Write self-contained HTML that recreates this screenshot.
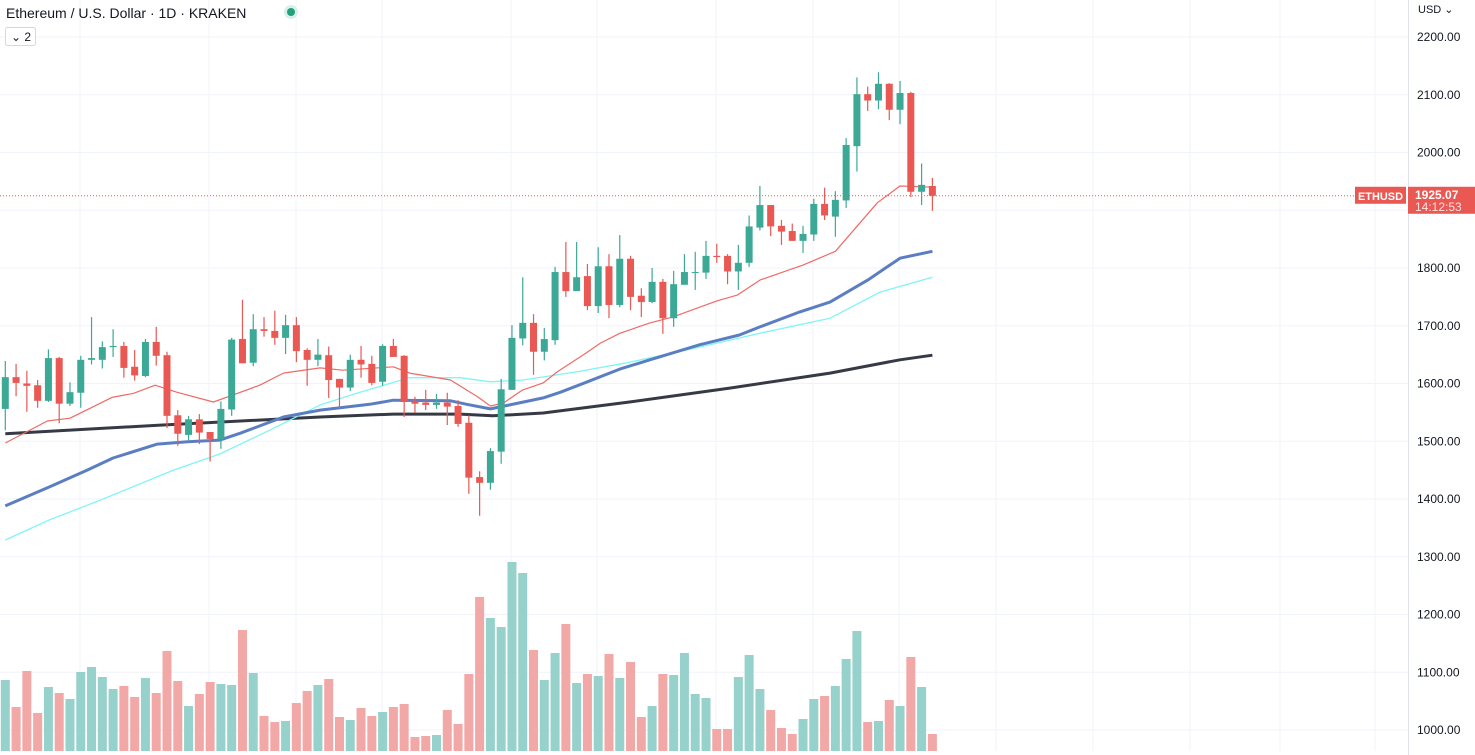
<!DOCTYPE html>
<html><head><meta charset="utf-8"><style>
html,body{margin:0;padding:0;background:#fff;width:1475px;height:755px;overflow:hidden;font-family:"Liberation Sans",sans-serif}
#c{position:absolute;left:0;top:0}
</style></head><body>
<svg id="c" width="1475" height="755" xmlns="http://www.w3.org/2000/svg">
<g id="grid"></g>
<g id="vol"></g>
<g id="mas"></g>
<g id="candles"></g>
<g id="axis"></g>
<text x="6" y="18" font-size="14" fill="#131722">Ethereum / U.S. Dollar · 1D · KRAKEN</text>
<circle cx="291" cy="12" r="7" fill="#d7f0ec"/>
<circle cx="291" cy="12" r="4" fill="#22a17a"/>
<g>
<rect x="5.5" y="27.5" width="30" height="18" rx="2" fill="#fff" stroke="#d6d8de"/>
<text x="11" y="41" font-size="12" fill="#131722">⌄ 2</text>
</g>
</svg>
<script>
const opens=[1556,1611,1600,1597,1570,1644,1565,1584,1641,1641,1663,1665,1629,1613,1672,1649,1545,1511,1538,1516,1504,1555,1677,1636,1694,1691,1679,1701,1658,1641,1649,1608,1593,1641,1634,1603,1665,1648,1570,1567,1563,1567,1561,1532,1438,1428,1482,1589,1678,1705,1655,1675,1793,1760,1786,1734,1803,1736,1816,1752,1741,1776,1713,1771,1792,1792,1821,1821,1794,1809,1870,1909,1873,1864,1847,1858,1911,1889,1917,2011,2101,2090,2119,2074,2103,1932,1942];
const highs=[1639,1634,1622,1606,1659,1646,1602,1648,1715,1673,1694,1672,1658,1677,1698,1655,1554,1544,1547,1516,1569,1679,1745,1720,1715,1726,1719,1715,1661,1677,1664,1608,1650,1665,1648,1668,1677,1649,1577,1589,1582,1584,1571,1545,1448,1488,1608,1701,1784,1720,1696,1802,1845,1845,1807,1836,1824,1857,1821,1765,1800,1781,1795,1824,1828,1847,1842,1824,1840,1891,1942,1909,1883,1877,1873,1920,1939,1933,2025,2130,2114,2139,2120,2124,2105,1981,1956];
const lows=[1519,1578,1551,1558,1568,1531,1561,1558,1633,1626,1646,1610,1605,1611,1631,1523,1492,1502,1495,1465,1487,1544,1635,1630,1681,1667,1651,1637,1596,1630,1575,1558,1587,1610,1597,1596,1646,1542,1549,1554,1556,1528,1525,1409,1371,1416,1461,1589,1666,1615,1640,1667,1750,1760,1727,1722,1713,1732,1727,1715,1739,1686,1698,1771,1762,1781,1809,1772,1762,1802,1865,1855,1840,1847,1826,1847,1883,1854,1904,1967,2072,2075,2056,2049,1923,1909,1899];
const closes=[1611,1601,1596,1570,1644,1565,1585,1641,1644,1663,1665,1627,1614,1672,1648,1544,1513,1538,1515,1504,1556,1676,1635,1694,1691,1679,1701,1656,1641,1650,1606,1593,1641,1633,1601,1665,1646,1568,1565,1563,1567,1560,1530,1437,1428,1483,1590,1679,1705,1655,1677,1793,1760,1784,1734,1803,1736,1816,1750,1741,1776,1713,1772,1793,1793,1821,1819,1794,1809,1872,1909,1872,1863,1847,1859,1911,1891,1918,2013,2101,2090,2119,2074,2103,1932,1944,1925.07];
const volumes=[71,44,80,38,64,58,52,79,84,74,62,65,54,73,58,100,70,45,57,69,67,66,121,78,35,29,30,48,60,66,72,34,31,43,35,39,44,47,14,15,16,41,27,77,154,133,124,189,178,101,71,98,127,68,77,75,97,73,89,34,45,77,76,98,57,53,22,22,74,96,62,41,23,17,32,52,55,65,92,120,29,30,51,45,94,64,17];
const maFastIdx=[0,3.9,6,9.9,11.9,13.9,15.9,19.3,21.1,23.6,25.8,29.2,31.3,36,37.5,41.3,43.8,45,46.2,48,49.9,51.2,53.9,55.2,57,59.8,61.9,66,67.9,70,74,77,80.9,83,86];
const maFastVal=[1497,1535,1540,1576,1583,1597,1585,1568,1580,1597,1618,1627,1623,1629,1618,1606,1577,1561,1566,1589,1601,1620,1653,1670,1687,1705,1715,1743,1753,1779,1805,1829,1913,1942,1940];
const maMidIdx=[0,4.1,7.6,10,14.1,16.9,19.9,21.8,25.8,29.2,33.8,36,41.3,42.8,45,46.8,49.9,51.5,54,57,59.8,64.4,68.1,70,73.7,76.5,80,83,86];
const maMidVal=[1388,1421,1450,1471,1495,1499,1502,1514,1542,1554,1564,1571,1570,1564,1556,1563,1575,1585,1603,1625,1641,1667,1684,1698,1724,1741,1779,1817,1829];
const maCyanIdx=[0,4.1,8.8,15.6,19.9,24.5,29.2,32.9,37.5,42.2,45,48,53,57.7,64.4,70,76.5,81.1,86];
const maCyanVal=[1329,1364,1398,1450,1478,1519,1563,1585,1610,1610,1603,1606,1620,1636,1663,1687,1713,1758,1784];
const maSlowIdx=[0,14.4,29.2,36,42.2,45.2,49.9,57.9,67.2,76.5,83,86];
const maSlowVal=[1513,1528,1542,1547,1547,1544,1549,1568,1592,1618,1641,1649];
const priceTicks=[2200,2100,2000,1900,1800,1700,1600,1500,1400,1300,1200,1100,1000];
const lastPrice=1925.07;

const NS='http://www.w3.org/2000/svg';
const X=i=>5.3+i*10.78;
const Y=p=>37+(2200-p)*0.5775;
const VY=v=>751-v;
function mk(t,a,parent){const e=document.createElementNS(NS,t);for(const k in a)e.setAttribute(k,a[k]);parent.appendChild(e);return e;}
const grid=document.getElementById('grid');
priceTicks.forEach(p=>{const l=mk('line',{x1:0,x2:1408,y1:Y(p),y2:Y(p),stroke:'#f0f3fa','stroke-width':1},grid);

});
[80,209,296,382,511,597,716,813,899,996,1093,1190,1280,1375].forEach(x=>{const l=mk('line',{x1:x,x2:x,y1:0,y2:751,stroke:'#f0f3fa','stroke-width':1},grid);

});
const vol=document.getElementById('vol');
volumes.forEach((v,i)=>{const up=closes[i]>=opens[i];const r=mk('rect',{x:X(i)-4.5,y:VY(v),width:9,height:v,fill:up?'#97d1cb':'#f1a8a6'},vol);

});
const mas=document.getElementById('mas');
function ma(idx,val,color,w,name){const d=idx.map((i,k)=>(k?'L':'M')+X(i).toFixed(1)+' '+Y(val[k]).toFixed(1)).join(' ');
const p=mk('path',{d:d,fill:'none',stroke:color,'stroke-width':w,'stroke-linejoin':'round'},mas);

}
ma(maSlowIdx,maSlowVal,'#363a45',3,'ma-slow-line');
ma(maCyanIdx,maCyanVal,'#7ff5f5',1.3,'ma-cyan-line');
ma(maMidIdx,maMidVal,'#5b7ec2',3,'ma-mid-line');
ma(maFastIdx,maFastVal,'#ef6a66',1.2,'ma-fast-line');
const cg=document.getElementById('candles');
opens.forEach((o,i)=>{const c=closes[i];const up=c>=o;const col=up?'#3ba996':'#e95853';const x=X(i);
const w=mk('line',{x1:x,x2:x,y1:Y(highs[i]),y2:Y(lows[i]),stroke:col,'stroke-width':1.2},cg);


const top=Y(Math.max(o,c)),bot=Y(Math.min(o,c));
const b=mk('rect',{x:x-3.5,y:top,width:7,height:Math.max(1,bot-top),fill:col},cg);

});
const ax=document.getElementById('axis');
const ly=Y(lastPrice);
const bl=mk('line',{x1:1408.5,x2:1408.5,y1:0,y2:755,stroke:'#e0e3eb'},ax);


priceTicks.forEach(p=>{if(Math.abs(Y(p)-ly)<22)return;const t=mk('text',{x:1417,y:Y(p)+4,'font-size':12,fill:'#131722'},ax);t.textContent=p.toFixed(2);

});
const u=mk('text',{x:1418,y:13,'font-size':11,fill:'#131722'},ax);u.textContent='USD ⌄';


const dl=mk('line',{x1:0,x2:1355,y1:ly,y2:ly,stroke:'#e95853','stroke-width':1,'stroke-dasharray':'1 2'},ax);


const tg=mk('rect',{x:1355,y:ly-9,width:51,height:17,fill:'#e95853'},ax);


const tt=mk('text',{x:1358,y:ly+4,'font-size':11,'font-weight':'bold',fill:'#fff',textLength:45,lengthAdjust:'spacingAndGlyphs'},ax);tt.textContent='ETHUSD';


const pb=mk('rect',{x:1408,y:ly-9,width:67,height:27,fill:'#e95853'},ax);


const pt=mk('text',{x:1415,y:ly+3,'font-size':12,'font-weight':'bold',fill:'#fff'},ax);pt.textContent=lastPrice.toFixed(2);


const ct=mk('text',{x:1415,y:ly+15,'font-size':12,fill:'#fbe3e2'},ax);ct.textContent='14:12:53';


</script>
</body></html>
